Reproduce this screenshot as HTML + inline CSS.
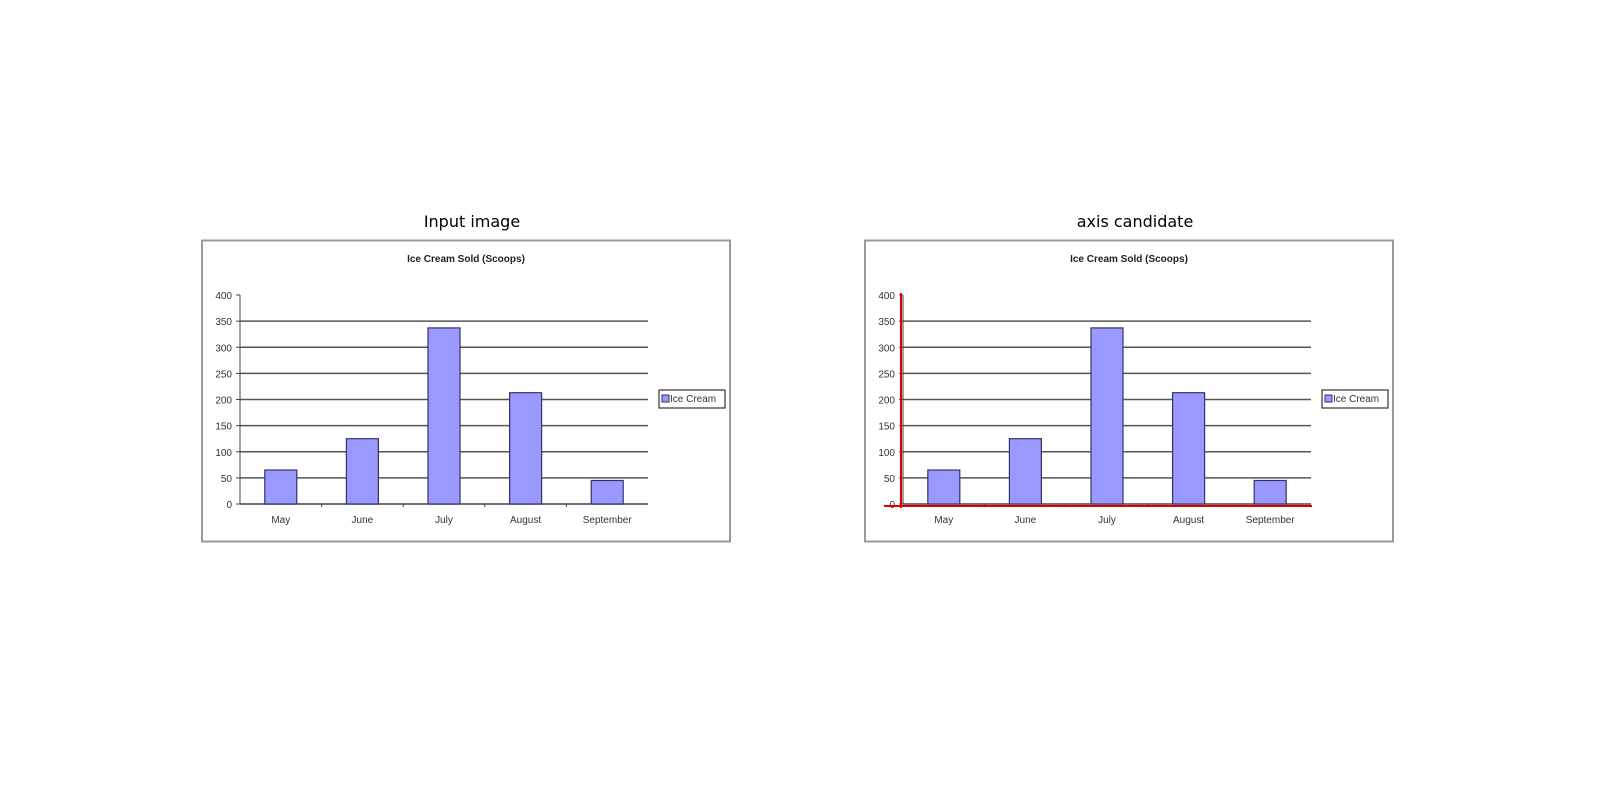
<!DOCTYPE html>
<html><head><meta charset="utf-8"><style>
body{margin:0;background:#fff;}
svg{display:block;}
</style></head><body>
<svg id="chart" width="1600" height="800" xmlns="http://www.w3.org/2000/svg"></svg>
<script>
const categories = ["May","June","July","August","September"];
const values = [65, 125, 337, 213, 45];
const yTicks = [0,50,100,150,200,250,300,350,400];
const panelTitles = ["Input image","axis candidate"];

const svg = document.getElementById('chart');
const NS = 'http://www.w3.org/2000/svg';
function mk(tag, attrs, parent, text){
  const e = document.createElementNS(NS, tag);
  for (const k in attrs) e.setAttribute(k, attrs[k]);
  if (text !== undefined) e.textContent = text;
  (parent || svg).appendChild(e);
  return e;
}
const plotX0 = 240, plotX1 = 648, yZero = 504, yTop = 295;
function yScale(v, off){ return yZero - (v/400)*(yZero - yTop); }
function xBand(i){ return plotX0 + (i + 0.5) * (plotX1 - plotX0) / categories.length; }

panelTitles.forEach((t, p) => {
  const off = p * 663;
  const g = mk('g', {transform: `translate(${off},0)`});
  
  
  const ti = mk('text', {x: 472, y: 227, 'text-anchor': 'middle', 'font-family': 'DejaVu Sans, sans-serif', 'font-size': 16, fill: '#000'}, g, t);
  
  
  const fr = mk('rect', {x: 202, y: 240.5, width: 528, height: 301, fill: '#fff', stroke: '#999', 'stroke-width': 2}, g);
  
  
  const ct = mk('text', {x: 466, y: 262, 'text-anchor': 'middle', 'font-family': 'Liberation Sans, sans-serif', 'font-size': 10, 'font-weight': 'bold', fill: '#222'}, g, 'Ice Cream Sold (Scoops)');
  
  
  yTicks.forEach(v => {
    const y = yScale(v);
    if (v > 0 && v < 400) {
      const gl = mk('line', {x1: plotX0, x2: plotX1, y1: y, y2: y, stroke: '#555', 'stroke-width': 1.6}, g);
      
      
    }
    const tk = mk('line', {x1: plotX0 - 4, x2: plotX0, y1: y, y2: y, stroke: '#444'}, g);
    
    
    const lb = mk('text', {x: plotX0 - 8, y: y + 4, 'text-anchor': 'end', 'font-family': 'Liberation Sans, sans-serif', 'font-size': 10, fill: '#333'}, g, v);
    
    
  });
  const ya = mk('line', {x1: plotX0, x2: plotX0, y1: yTop, y2: yZero, stroke: '#444'}, g);
  
  
  const xa = mk('line', {x1: plotX0, x2: plotX1, y1: yZero, y2: yZero, stroke: '#444', 'stroke-width': 1.5}, g);
  
  
  categories.forEach((c, i) => {
    const cx = xBand(i);
    const bw = 32;
    const y = yScale(values[i]);
    const b = mk('rect', {x: cx - bw/2, y: y, width: bw, height: yZero - y, fill: '#9999ff', stroke: '#333366', 'stroke-width': 1.2}, g);
    
    
    const xl = mk('text', {x: cx, y: 523, 'text-anchor': 'middle', 'font-family': 'Liberation Sans, sans-serif', 'font-size': 10, fill: '#333'}, g, c);
    
    
    if (i > 0) {
      const xt = mk('line', {x1: plotX0 + i*(plotX1-plotX0)/5, x2: plotX0 + i*(plotX1-plotX0)/5, y1: yZero, y2: yZero + 3, stroke: '#444'}, g);
      
      
    }
  });
  const lg = mk('g', {}, g);
  
  
  mk('rect', {x: 659, y: 390, width: 66, height: 18, fill: '#fff', stroke: '#333', 'stroke-width': 1.2}, lg);
  mk('rect', {x: 662, y: 395, width: 7, height: 7, fill: '#9999ff', stroke: '#333366'}, lg);
  const lt = mk('text', {x: 670, y: 402, 'font-family': 'Liberation Sans, sans-serif', 'font-size': 10, fill: '#333'}, lg, 'Ice Cream');
  
  
  if (p === 1) {
    const rv = mk('line', {x1: 238, x2: 238, y1: 293, y2: 508, stroke: '#dd0000', 'stroke-width': 2}, g);
    
    
    const rh = mk('line', {x1: 221, x2: 649, y1: 506, y2: 506, stroke: '#dd0000', 'stroke-width': 2}, g);
    
    
  }
});
</script>
</body></html>
